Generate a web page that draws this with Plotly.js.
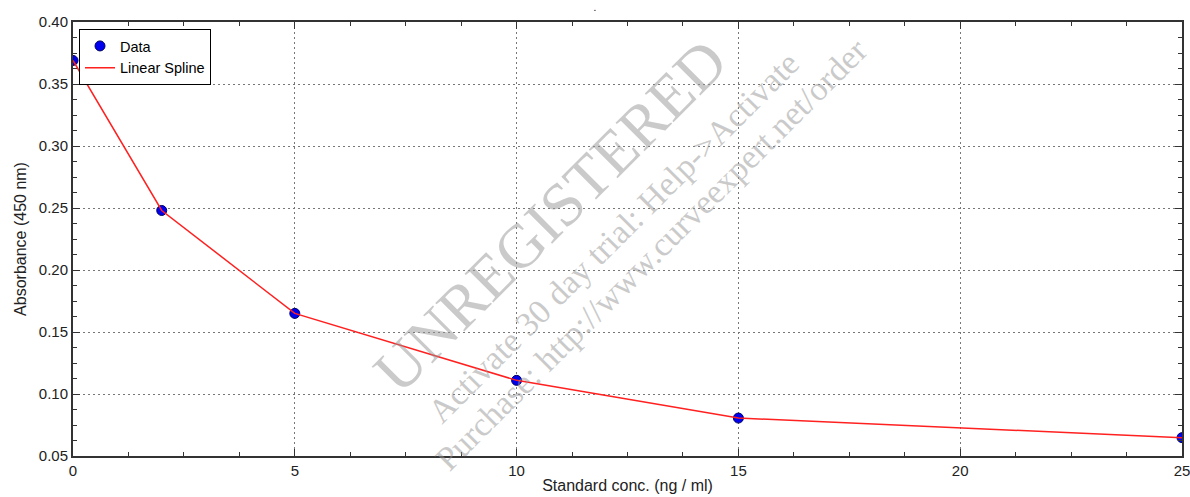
<!DOCTYPE html>
<html>
<head>
<meta charset="utf-8">
<script src="https://cdn.plot.ly/plotly-3.0.1.min.js"></script>
<style>html,body{margin:0;padding:0;background:#fff;}#chart{width:1190px;height:497px;}</style>
</head>
<body>
<div id="chart"></div>
<script>
// Data
const concentrations = [0, 2, 5, 10, 15, 25];
const absorbance = [0.369, 0.248, 0.165, 0.111, 0.0806, 0.0648];
const xTickValues = [0, 5, 10, 15, 20, 25];
const yTickValues = [0.05, 0.10, 0.15, 0.20, 0.25, 0.30, 0.35, 0.40];
const yTickLabels = ["0.05", "0.10", "0.15", "0.20", "0.25", "0.30", "0.35", "0.40"];
const seriesNames = ["Data", "Linear Spline"];
const watermarkTexts = ["UNREGISTERED", "Activate 30 day trial: Help->Activate", "Purchase: http://www.curveexpert.net/order"];

const font = "Liberation Sans, Arial, sans-serif";
const serif = "Liberation Serif, Times New Roman, serif";
const wm = "rgba(150,150,150,0.5)";

const traces = [
  {
    x: concentrations, y: absorbance, name: seriesNames[0], type: "scatter", mode: "markers",
    marker: {color: "#0000ee", size: 10, line: {color: "#000066", width: 1}}
  },
  {
    x: concentrations, y: absorbance, name: seriesNames[1], type: "scatter", mode: "lines",
    line: {color: "#ff2020", width: 1.5}
  }
];

function axisCommon() {
  return {
    showline: true, linecolor: "#333", linewidth: 2, mirror: "allticks",
    ticks: "inside", ticklen: 7, tickwidth: 1, tickcolor: "#333",
    showgrid: true, gridcolor: "#777", griddash: "2px,3px", gridwidth: 1,
    zeroline: false, ticklabeloverflow: "allow",
    tickfont: {family: font, size: 15, color: "#222"}
  };
}

const xaxis = Object.assign(axisCommon(), {
  range: [0, 25], tickvals: xTickValues, ticktext: xTickValues.map(String),
  title: {text: "Standard conc. (ng / ml)", font: {family: font, size: 16, color: "#222"}, standoff: 2}
});
xaxis.minor = {ticks: "inside", ticklen: 4, tickcolor: "#333", dtick: 1.25, tick0: 0, showgrid: false};

const yaxis = Object.assign(axisCommon(), {
  range: [0.05, 0.40], tickvals: yTickValues, ticktext: yTickLabels,
  title: {text: "Absorbance (450 nm)", font: {family: font, size: 16, color: "#222"}, standoff: 8}
});
yaxis.minor = {ticks: "inside", ticklen: 4, tickcolor: "#333", dtick: 0.0125, tick0: 0.05, showgrid: false};

const L = 73, R = 1182, T = 22, B = 456;
function px(x) { return (x - L) / (R - L); }
function py(y) { return (B - y) / (B - T); }

const layout = {
  width: 1190, height: 497,
  margin: {l: L, r: 1190 - R, t: T, b: 497 - B},
  paper_bgcolor: "#fff", plot_bgcolor: "#fff",
  title: {text: ".", x: 0.5, xref: "container", y: 1 - 7 / 497, yref: "container", yanchor: "middle", pad: {t: 0, b: 0},
          font: {family: font, size: 10, color: "#000"}},
  xaxis: xaxis, yaxis: yaxis,
  showlegend: true,
  legend: {x: px(79), y: py(29), xanchor: "left", yanchor: "top", bgcolor: "#fff",
           bordercolor: "#000", borderwidth: 1, font: {family: font, size: 14.5, color: "#000"},
           tracegroupgap: 0},
  annotations: [
    {text: watermarkTexts[0], xref: "paper", yref: "paper", x: px(550), y: py(216), showarrow: false,
     textangle: -45, font: {family: serif, size: 62, color: wm}},
    {text: watermarkTexts[1], xref: "paper", yref: "paper", x: px(613), y: py(237), showarrow: false,
     textangle: -45, font: {family: serif, size: 34, color: wm}},
    {text: watermarkTexts[2], xref: "paper", yref: "paper", x: px(651), y: py(254), showarrow: false,
     textangle: -45, font: {family: serif, size: 34, color: wm}}
  ]
};

Plotly.newPlot("chart", traces, layout, {displayModeBar: false, staticPlot: true});
</script>
</body>
</html>
